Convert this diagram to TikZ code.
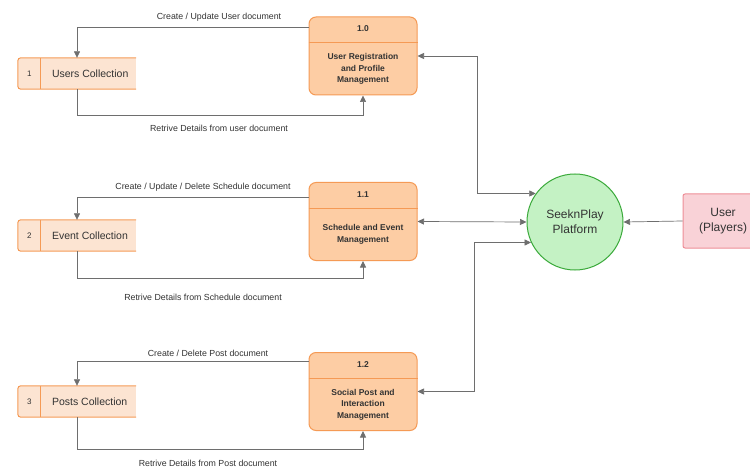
\documentclass[tikz,border=0pt]{standalone}
\usepackage{fontspec}
\setmainfont{Liberation Sans}
\usetikzlibrary{arrows.meta,calc}
\definecolor{procfill}{HTML}{FDCDA4}
\definecolor{procline}{HTML}{F59A55}
\definecolor{storefill}{HTML}{FCE4D2}
\definecolor{circfill}{HTML}{C4F2C4}
\definecolor{circline}{HTML}{3BAA3B}
\definecolor{userfill}{HTML}{F9D2D7}
\definecolor{userline}{HTML}{EE8E98}
\definecolor{flowline}{HTML}{6E6E6E}
\definecolor{txt}{HTML}{333333}
\tikzset{
  proc/.style={draw=procline, fill=procfill, line width=1pt, rounded corners=7pt, minimum width=108pt, minimum height=78pt, inner sep=0pt},
  store/.style={fill=storefill, minimum width=118pt, minimum height=31pt, inner sep=0pt},
  flow/.style={draw=flowline, line width=0.7pt, -{Triangle[length=6.5pt,width=6pt]}, color=flowline},
  both/.style={draw=flowline, line width=0.7pt, {Triangle[length=6.5pt,width=6pt]}-{Triangle[length=6.5pt,width=6pt]}, color=flowline},
  lbl/.style={font=\fontsize{8.8}{10}\selectfont, text=txt, inner sep=0pt},
  ptitle/.style={font=\bfseries\fontsize{8.5}{11.5}\selectfont, text=txt, align=center, inner sep=0pt},
  stxt/.style={font=\fontsize{10.5}{12}\selectfont, text=txt, inner sep=0pt}
}
\begin{document}
\begin{tikzpicture}[x=1pt,y=-1pt]
\useasboundingbox (0,0) rectangle (750,468);
\clip (0,0) rectangle (750,468);
\fill[white] (0,0) rectangle (750,468);
% processes
\node[proc] (p10) at (363,56) {};
\node[proc] (p11) at (363,221.5) {};
\node[proc] (p12) at (363,391.5) {};
\foreach \p/\n/\t in {p10/1.0/{User Registration\\and Profile\\Management}, p11/1.1/{Schedule and Event\\Management}, p12/1.2/{Social Post and\\Interaction\\Management}}{
  \draw[procline, line width=1pt] ([yshift=-26pt]\p.north west) -- ([yshift=-26pt]\p.north east);
  \node[ptitle] (\p h) at ([yshift=-12.5pt]\p.north) {\n};
  \node[ptitle] (\p b) at ([yshift=-13pt]\p.center) {\t};
}
% stores
\foreach \s/\y/\n/\t in {s1/73.5/1/Users Collection, s2/235.5/2/Event Collection, s3/401.5/3/Posts Collection}{
  \node[store] (\s) at (77,\y) {};
  \draw[procline, line width=1pt, rounded corners=3pt] (\s.north east) -- (\s.north west) -- (\s.south west) -- (\s.south east);
  \draw[procline, line width=1pt] ([xshift=23pt]\s.north west) -- ([xshift=23pt]\s.south west);
  \node[font=\fontsize{8}{9}\selectfont, text=txt] (\s n) at ([xshift=11.5pt]\s.west) {\n};
  \node[stxt, anchor=west] (\s t) at ([xshift=34pt]\s.west) {\t};
}
% circle and user
\node[circle, draw=circline, fill=circfill, line width=1pt, minimum size=96pt, inner sep=0pt, align=center, font=\fontsize{12}{15}\selectfont, text=txt] (c) at (575,222) {SeeknPlay\\Platform};
\node[draw=userline, fill=userfill, line width=1pt, rounded corners=2pt, minimum width=80pt, minimum height=54pt, align=center, font=\fontsize{12}{15}\selectfont, text=txt, inner sep=0pt] (u) at (723,221) {User\\(Players)};
% flows
\draw[flow] ([yshift=-11pt]p10.north west) -| (s1.north);
\draw[flow] (s1.south) -- ++(0,26) -| (p10.south);
\draw[flow] ([yshift=-15pt]p11.north west) -| (s2.north);
\draw[flow] (s2.south) -- ++(0,27) -| (p11.south);
\draw[flow] ([yshift=-9pt]p12.north west) -| (s3.north);
\draw[flow] (s3.south) -- ++(0,32) -| (p12.south);
\node[lbl] (l1) at (219,17) {Create / Update User document};
\node[lbl] (l2) at (219,128) {Retrive Details from user document};
\node[lbl] (l3) at (203,187) {Create / Update / Delete Schedule document};
\node[lbl] (l4) at (203,297) {Retrive Details from Schedule document};
\node[lbl] (l5) at (208,353) {Create / Delete Post document};
\node[lbl] (l6) at (208,463) {Retrive Details from Post document};
% platform connections
\draw[both] (p10.east) -- ++(60,0) |- (c.144);
\draw[both] (p11.east) -- (c.west);
\draw[both] (p12.east) -- ++(57,0) |- (c.205);
\draw[flow] (u.west) -- (c.east);
\end{tikzpicture}
\end{document}
